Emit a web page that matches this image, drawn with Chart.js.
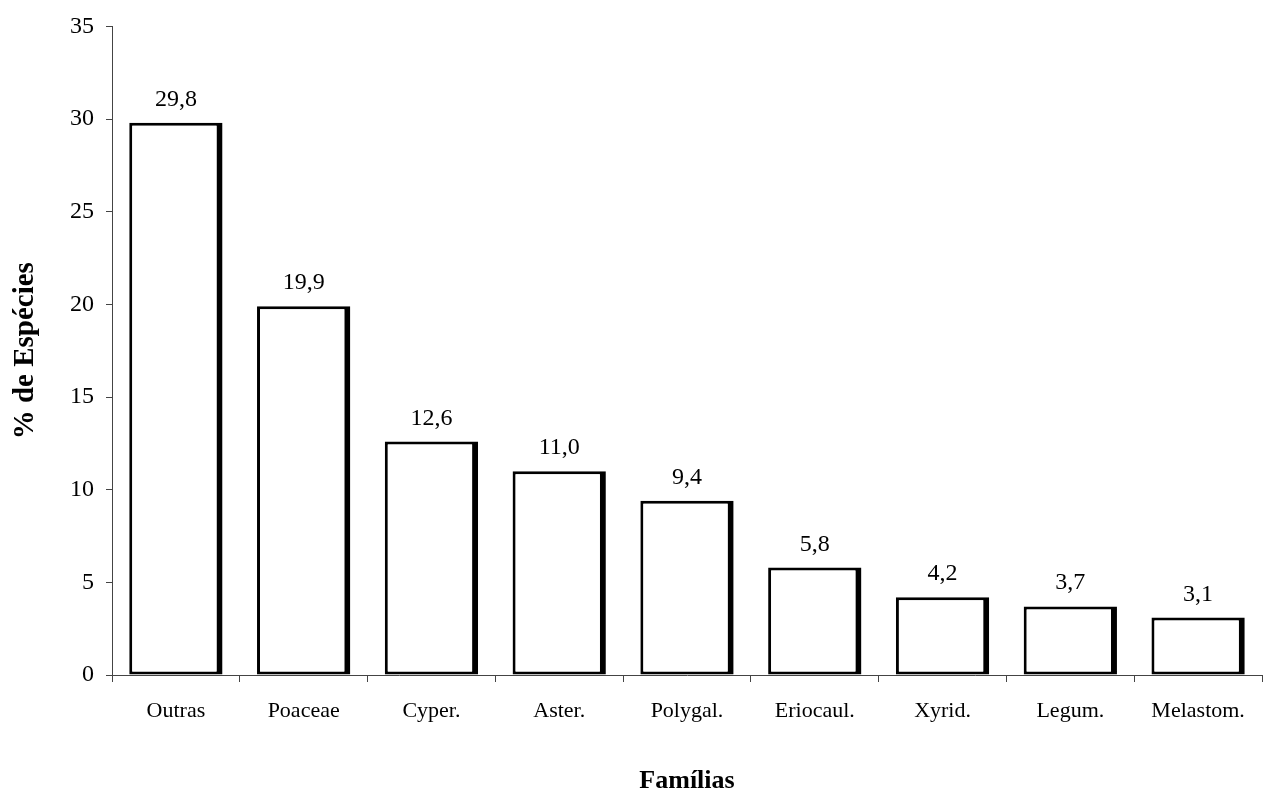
<!DOCTYPE html>
<html>
<head>
<meta charset="utf-8">
<script src="https://cdn.jsdelivr.net/npm/chart.js@4"></script>
<style>
  html, body { margin: 0; padding: 0; background: #fff; }
  #wrap { width: 1264px; height: 797px; }
</style>
</head>
<body>
<div id="wrap"><canvas id="c" width="1264" height="797"></canvas></div>
<script>
const familias = ['Outras', 'Poaceae', 'Cyper.', 'Aster.', 'Polygal.', 'Eriocaul.', 'Xyrid.', 'Legum.', 'Melastom.'];
const percentEspecies = [29.8, 19.9, 12.6, 11.0, 9.4, 5.8, 4.2, 3.7, 3.1];
const yTicks = [0, 5, 10, 15, 20, 25, 30, 35];

const SERIF = '"Liberation Serif", "DejaVu Serif", serif';

// Value labels above each bar, written with a decimal comma
const valueLabels = {
  id: 'valueLabels',
  afterDatasetsDraw(chart) {
    const ctx = chart.ctx;
    const meta = chart.getDatasetMeta(0);
    ctx.save();
    ctx.fillStyle = '#000';
    ctx.font = '24px ' + SERIF;
    ctx.textAlign = 'center';
    ctx.textBaseline = 'alphabetic';
    meta.data.forEach((bar, i) => {
      const txt = percentEspecies[i].toFixed(1).replace('.', ',');
      ctx.fillText(txt, bar.x, bar.y - 17);
    });
    ctx.restore();
  }
};

new Chart(document.getElementById('c'), {
  type: 'bar',
  data: {
    labels: familias,
    datasets: [{
      data: percentEspecies,
      backgroundColor: '#ffffff',
      borderColor: '#000000',
      borderWidth: { left: 3, top: 3, bottom: 3, right: 6 },
      borderSkipped: false,
      categoryPercentage: 1.0,
      barPercentage: 0.73
    }]
  },
  options: {
    responsive: false,
    animation: false,
    devicePixelRatio: 1,
    layout: { padding: { top: 26, right: 2, left: 0, bottom: 0 } },
    plugins: {
      legend: { display: false },
      tooltip: { enabled: false }
    },
    scales: {
      x: {
        offset: true,
        grid: {
          offset: true,
          drawOnChartArea: false,
          drawTicks: true,
          tickLength: 7,
          color: '#444'
        },
        border: { display: true, color: '#444', width: 1 },
        ticks: {
          color: '#000',
          font: { family: SERIF, size: 22 },
          padding: 16,
          maxRotation: 0,
          autoSkip: false
        },
        title: {
          display: true,
          text: 'Famílias',
          color: '#000',
          font: { family: SERIF, size: 26, weight: 'bold' },
          padding: { top: 26, bottom: 0 }
        },
        afterFit(scale) { scale.height = 122; }
      },
      y: {
        min: 0,
        max: 35,
        afterBuildTicks(scale) { scale.ticks = yTicks.map(v => ({ value: v })); },
        grid: {
          drawOnChartArea: false,
          drawTicks: true,
          tickLength: 6,
          color: '#444'
        },
        border: { display: true, color: '#444', width: 1 },
        ticks: {
          color: '#000',
          font: { family: SERIF, size: 24 },
          padding: 12
        },
        title: {
          display: true,
          text: '% de Espécies',
          color: '#000',
          font: { family: SERIF, size: 29, weight: 'bold' },
          padding: { top: 8, bottom: 0 }
        },
        afterFit(scale) { scale.width = 112; }
      }
    }
  },
  plugins: [valueLabels]
});
</script>
</body>
</html>
